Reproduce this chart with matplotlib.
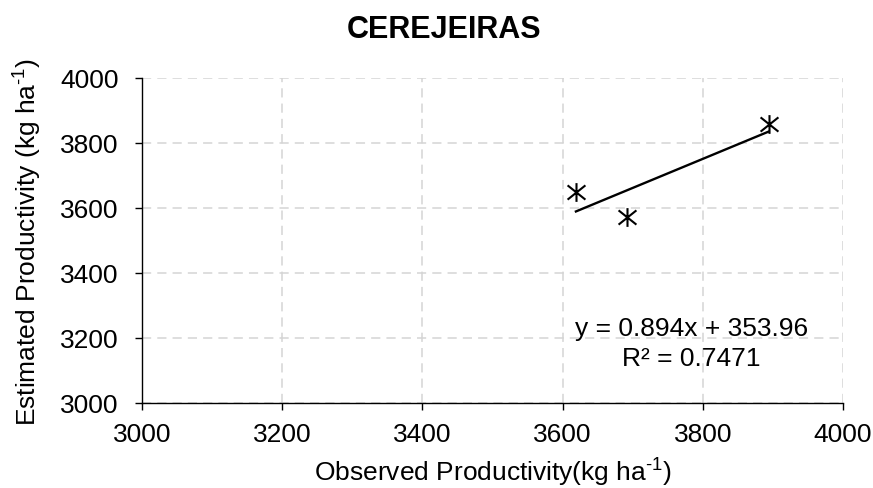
import matplotlib
matplotlib.use("Agg")
import matplotlib.pyplot as plt
import numpy as np
from matplotlib.path import Path

plt.rcParams['font.family'] = ['Liberation Sans', 'DejaVu Sans']
plt.rcParams['mathtext.fontset'] = 'custom'
plt.rcParams['mathtext.rm'] = 'Liberation Sans'
plt.rcParams['mathtext.default'] = 'regular'

# ---- data ----
title = "CEREJEIRAS"
observed = [3619, 3692, 3894]
estimated = [3650, 3572, 3857]
slope = 0.894
intercept = 353.96
r2 = 0.7471
ticks = [3000, 3200, 3400, 3600, 3800, 4000]

W, H = 873, 489
FS = 19
fig = plt.figure(figsize=(W / 100, H / 100), dpi=100)
ax = fig.add_axes([142 / W, 1 - 404 / H, (843 - 142) / W, (404 - 79) / H])

ax.set_xlim(3000, 4000)
ax.set_ylim(3000, 4000)
ax.set_xticks(ticks)
ax.set_yticks(ticks)

ax.grid(True, color='#d4d4d4', linestyle=(0, (6, 4)), linewidth=1.1)
ax.set_axisbelow(True)
for s in ['top', 'right']:
    ax.spines[s].set_visible(False)
for s in ['left', 'bottom']:
    ax.spines[s].set_color('black')
    ax.spines[s].set_linewidth(1.0)
ax.tick_params(direction='out', length=5, width=1.0, colors='black', labelsize=FS)
ax.tick_params(axis='y', pad=12)
ax.tick_params(axis='x', pad=9)

# star marker: X plus vertical bar
verts = [(-1, -0.8), (1, 0.8), (-1, 0.8), (1, -0.8), (0, -1.05), (0, 1.05)]
codes = [Path.MOVETO, Path.LINETO] * 3
star = Path(verts, codes)

xs = np.array([min(observed), max(observed)])
ax.plot(xs, slope * xs + intercept, color='black', linewidth=1.7, zorder=3)
ax.plot(observed, estimated, linestyle='none', marker=star, markersize=13.5,
        markeredgecolor='black', markerfacecolor='none', markeredgewidth=1.5, zorder=4)

ax.text(3784, 3209, f"y = {slope}x + {intercept}", ha='center', va='baseline', fontsize=FS)
ax.text(3784, 3117, f"R² = {r2}", ha='center', va='baseline', fontsize=FS)

ax.set_xlabel(r"Observed Productivity(kg ha$^{\text{-1}}$)", fontsize=FS, labelpad=7)
ax.set_ylabel(r"Estimated Productivity (kg ha$^{\text{-1}}$)", fontsize=FS, labelpad=11)

fig.text(444 / W, 1 - 38 / H, title, ha='center', va='baseline', fontsize=22, fontweight='bold')

fig.savefig("out.png", dpi=100)
